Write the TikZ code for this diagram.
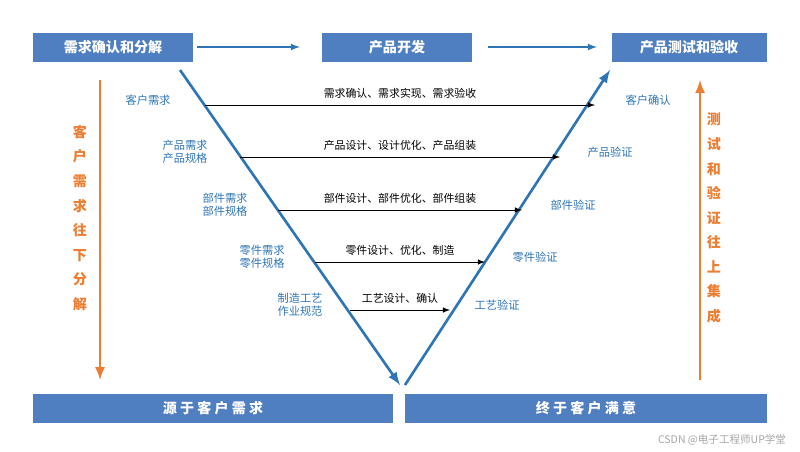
\documentclass[tikz,border=0pt]{standalone}
\usepackage{fontspec}
\setmainfont{Noto Sans CJK SC}
\usepackage{tikz}
\usepackage{xcolor}
\definecolor{boxblue}{HTML}{4F7FC0}
\definecolor{lineblue}{HTML}{2E75B6}
\definecolor{vorange}{HTML}{ED7D31}

\begin{document}
\begin{tikzpicture}[x=0.02cm,y=-0.02cm]
  \tikzset{stage/.style={fill=boxblue,text=white,font=\fontsize{8}{9}\selectfont\bfseries,minimum height=0.58cm,inner sep=0pt}}
  \tikzset{flow/.style={->,>=latex,thick,lineblue}}
  \tikzset{task/.style={->,>=latex,black}}
  \tikzset{side/.style={lineblue,font=\fontsize{6.4}{7.6}\selectfont,align=center}}
  \tikzset{work/.style={font=\fontsize{6.2}{7.5}\selectfont,above}}
  \tikzset{trend/.style={->,>=latex,line width=1.5pt,vorange}}
  \tikzset{trendtext/.style={vorange,font=\fontsize{8}{14}\selectfont\bfseries,align=center}}
  \useasboundingbox (0,0) rectangle (800,451);
  % top row
  \node[stage,minimum width=3.2cm] (req) at (113,47) {需求确认和分解};
  \node[stage,minimum width=3.0cm] (dev) at (397,47) {产品开发};
  \node[stage,minimum width=3.1cm] (test) at (689,47) {产品测试和验收};
  \coordinate (f1) at (197,47);
  \coordinate (f2) at (300,47);
  \coordinate (f3) at (488,47);
  \coordinate (f4) at (597,47);
  \draw[flow] (f1) -- (f2);
  \draw[flow] (f3) -- (f4);
  % bottom row
  \node[stage,minimum width=7.2cm] (src) at (213,408) {源\ 于\ 客\ 户\ 需\ 求};
  \node[stage,minimum width=7.24cm] (end) at (586,408) {终\ 于\ 客\ 户\ 满\ 意};
  % V
  \coordinate (vtl) at (180,70);
  \coordinate (vbl) at (400,385);
  \coordinate (vbr) at (405,385);
  \coordinate (vtr) at (610,70);
  \draw[flow,line width=1.5pt] (vtl) -- (vbl);
  \draw[flow,line width=1.5pt] (vbr) -- (vtr);
  % levels
  \foreach \y/\xa/\xb/\work/\need/\nx/\check/\cx in {
      105/205/595/需求确认、需求实现、需求验收/客户需求/148/客户确认/648,
      157/240/560/产品设计、设计优化、产品组装/产品需求\\产品规格/185/产品验证/610,
      210/278/522/部件设计、部件优化、部件组装/部件需求\\部件规格/225/部件验证/573,
      262/315/485/零件设计、优化、制造/零件需求\\零件规格/262/零件验证/535,
      310/350/450/工艺设计、确认/制造工艺\\作业规范/300/工艺验证/497}{
    \coordinate (a\y) at (\xa,\y);
    \coordinate (b\y) at (\xb,\y);
    \draw[task] (a\y) -- node[work]{\work} (b\y);
    \node[side] (n\y) at (\nx,\y-5) {\need};
    \node[side] (c\y) at (\cx,\y-5) {\check};
  }
  % side trends
  \coordinate (lt) at (100,80);
  \coordinate (lb) at (100,380);
  \draw[trend] (lt) -- (lb);
  \node[trendtext] (ltext) at (80,218) {客\\户\\需\\求\\往\\下\\分\\解};
  \coordinate (rb) at (700,380);
  \coordinate (rt) at (700,80);
  \draw[trend] (rb) -- (rt);
  \node[trendtext] (rtext) at (714,218) {测\\试\\和\\验\\证\\往\\上\\集\\成};
  \node[gray!70,font=\fontsize{6}{7}\selectfont] (mark) at (722,440) {CSDN @电子工程师UP学堂};
\end{tikzpicture}
\end{document}
